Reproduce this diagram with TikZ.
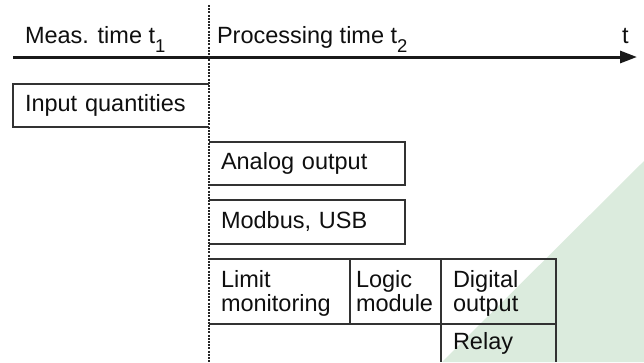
\documentclass[tikz,border=0pt]{standalone}
\usepackage{fontspec}
\setmainfont{Liberation Sans}
\usetikzlibrary{arrows.meta}
\definecolor{bggreen}{RGB}{219,235,221}
\definecolor{linec}{RGB}{50,50,50}
\definecolor{txtc}{RGB}{15,15,15}
\newcommand{\sst}{\rule[-5pt]{0pt}{22pt}}
\newcommand{\tst}{\rule[-5pt]{0pt}{25pt}}
\newcommand{\subdig}[1]{\raisebox{-9pt}{\fontsize{18.5}{19}\selectfont #1}}
\begin{document}
\begin{tikzpicture}[x=1pt,y=-1pt,
  every node/.style={inner sep=0pt, outer sep=0pt, text=txtc,
    font=\fontsize{23.5}{24}\selectfont},
  box/.style={anchor=north west, inner xsep=12pt, inner ysep=0pt, align=left},
  frame/.style={draw=linec, line width=1.3pt},
  axis/.style={draw=black!90, line width=3pt, -{Triangle[length=17pt,width=12pt]}},
  divider/.style={draw=black!85, line width=1.1pt, dash pattern=on 2pt off 1.2pt},
  lbl/.style={anchor=base west}
]
\useasboundingbox (0,0) rectangle (644,362);
% background triangle
\fill[bggreen] (442,362) -- (644,161) -- (644,362) -- cycle;

% time axis
\coordinate (ax0) at (13,57);
\coordinate (ax1) at (637,57);
\draw[axis] (ax0) -- (ax1);

% dividing line
\coordinate (d0) at (209,5);
\coordinate (d1) at (209,362);
\draw[divider] (d0) -- (d1);

% axis labels
\node[lbl] (meas) at (25,43) {Meas. time t\subdig{1}};
\node[lbl] (proc) at (217,43) {Processing time t\subdig{2}};
\node[lbl] (tlab) at (622,43) {t};

% boxes
\node[box, text width=172pt, minimum height=43pt] (inp) at (13,84) {\sst Input quantities};
\node[box, text width=172pt, minimum height=43pt] (ana) at (209,142) {\sst Analog output};
\node[box, text width=172pt, minimum height=44pt] (mod) at (209,200) {\sst Modbus, USB};
\node[box, text width=117pt, minimum height=65pt] (lim) at (209,259) {\tst Limit\\monitoring\sst};
\node[box, inner xsep=6pt, text width=79pt, minimum height=65pt] (log) at (350,259) {\tst Logic\\module\sst};
\node[box, text width=91pt, minimum height=65pt] (dig) at (441,259) {\tst Digital\\output\sst};
\node[box, text width=91pt, minimum height=38pt] (rel) at (441,324) {\sst Relay};

% frames
\draw[frame] (inp.north east) -- (inp.north west) -- (inp.south west) -- (inp.south east);
\draw[frame] (ana.north west) -- (ana.north east) -- (ana.south east) -- (ana.south west);
\draw[frame] (mod.north west) -- (mod.north east) -- (mod.south east) -- (mod.south west);
\draw[frame] (lim.north west) -- (dig.north east) -- (rel.south east);
\draw[frame] (lim.south west) -- (dig.south east);
\draw[frame] (lim.north east) -- (lim.south east);
\draw[frame] (log.north east) -- (rel.south west);
\end{tikzpicture}
\end{document}
